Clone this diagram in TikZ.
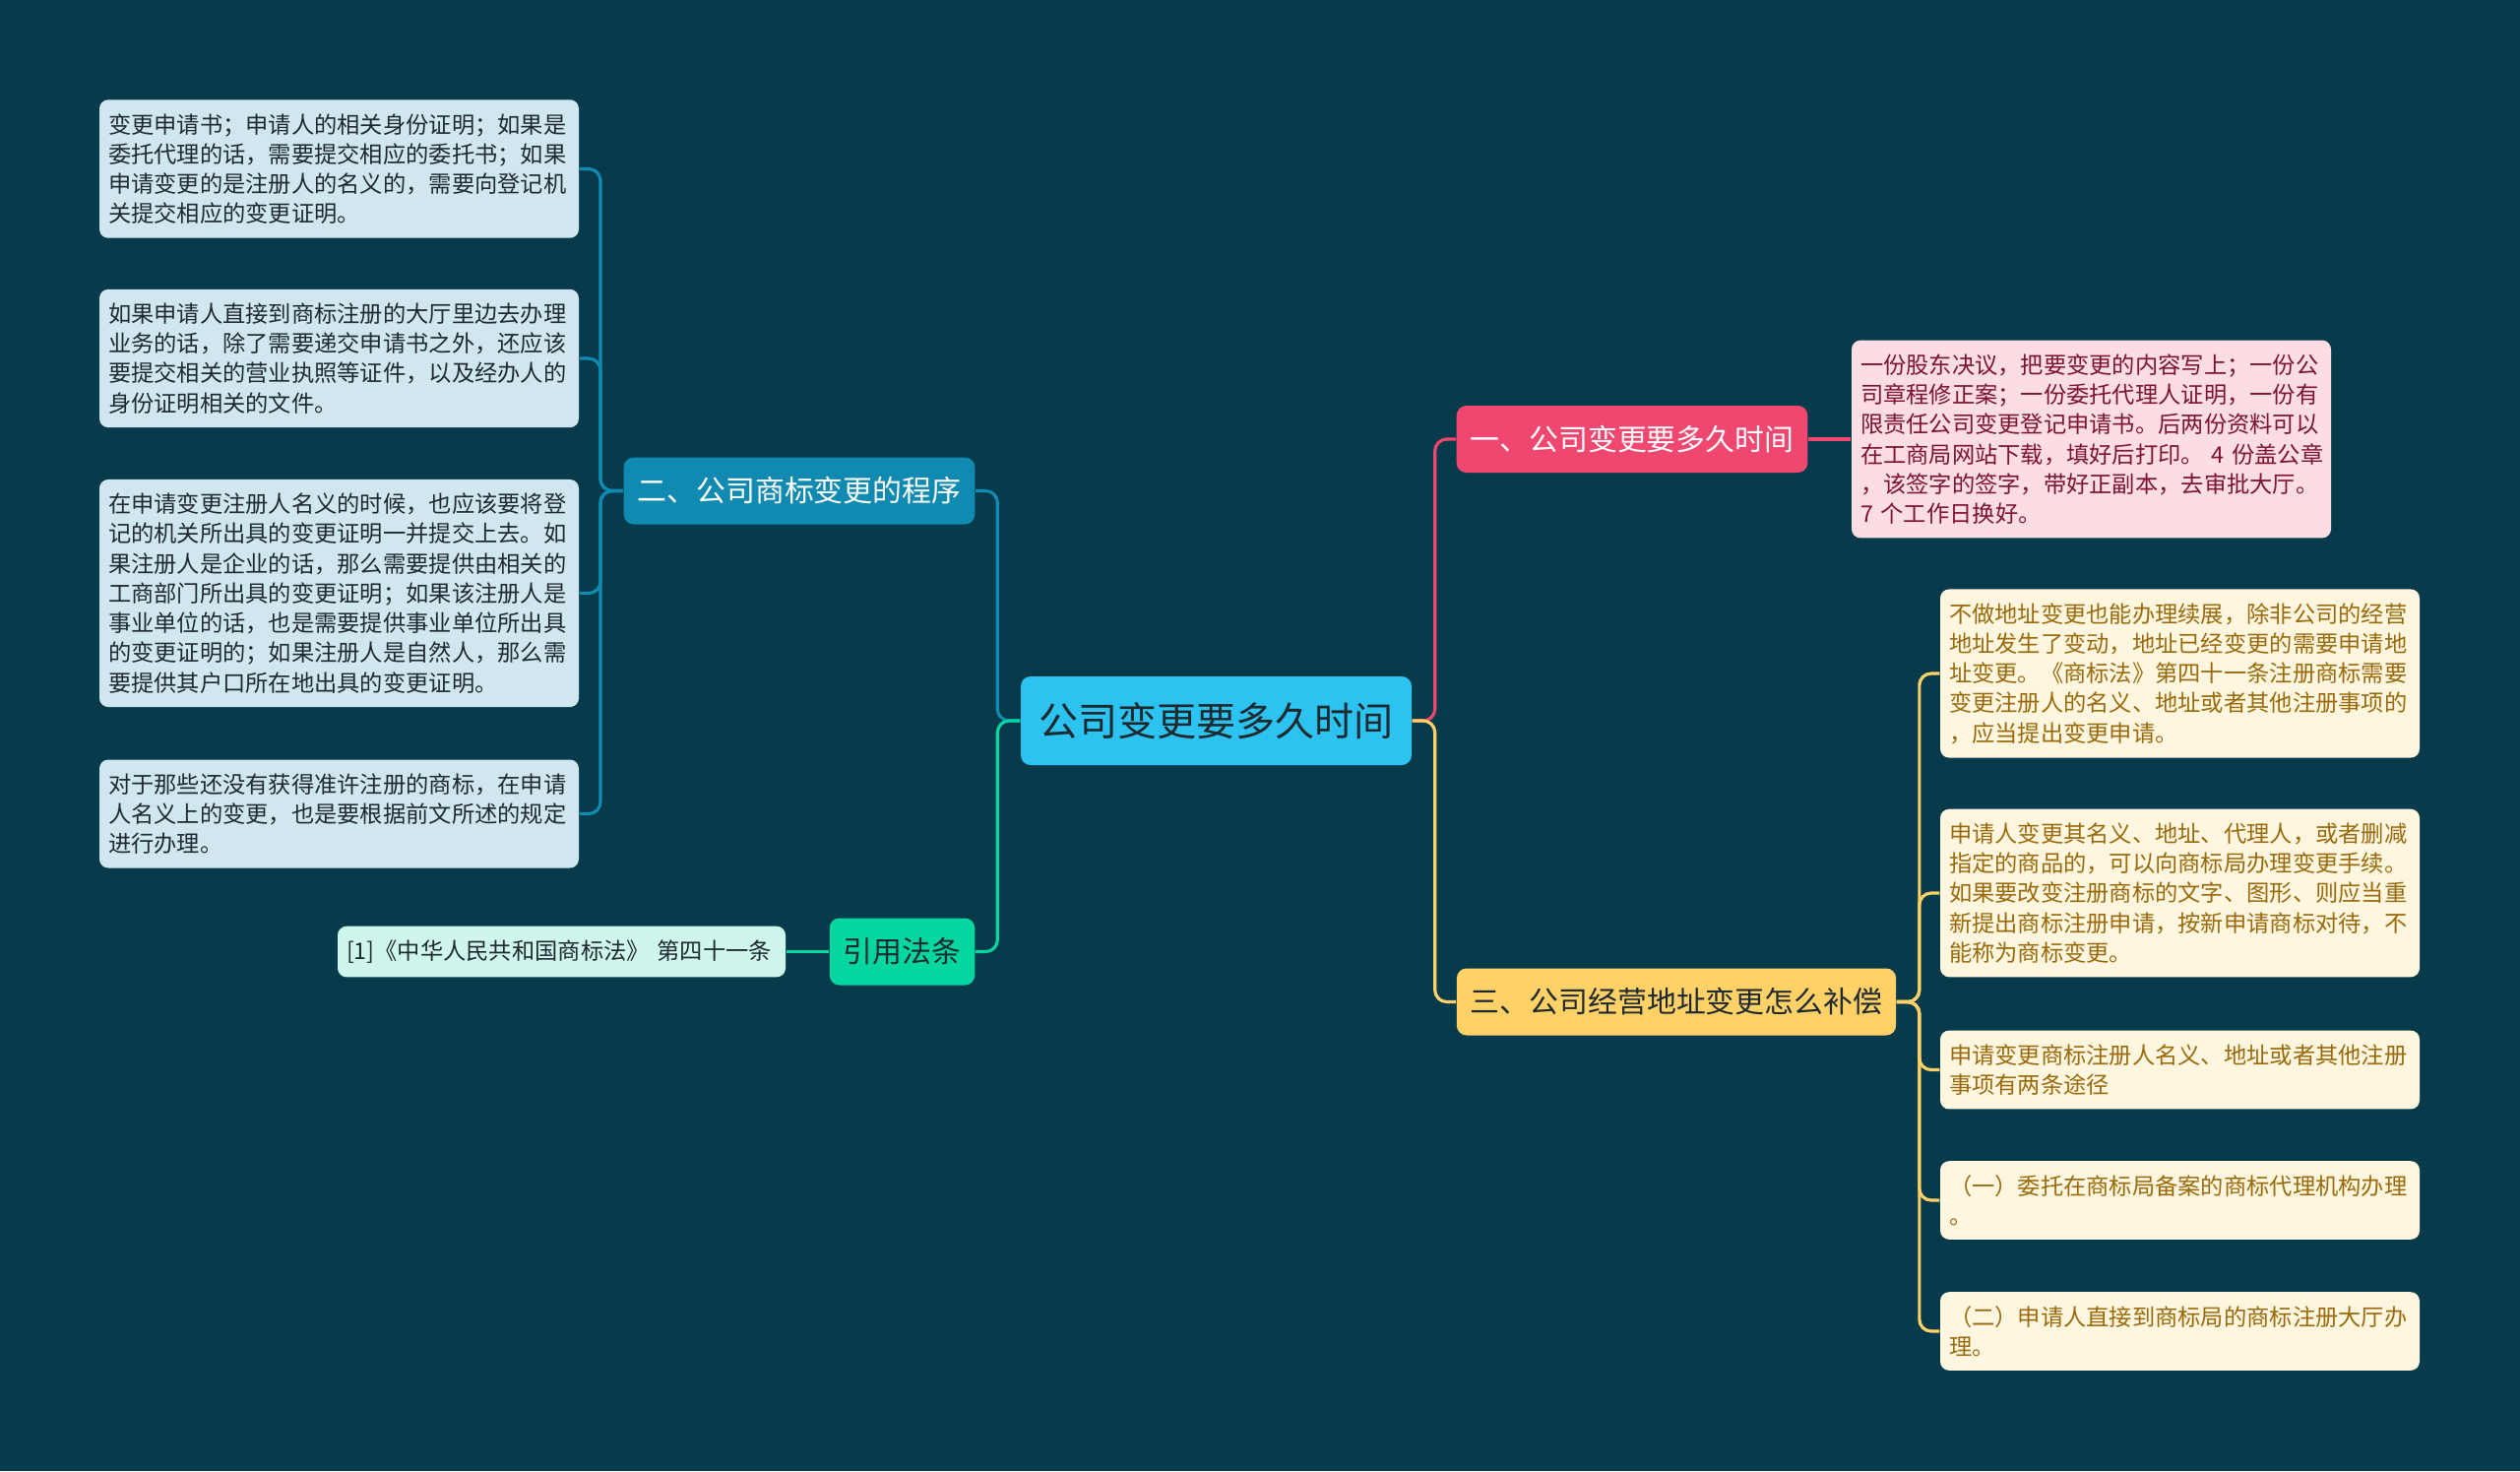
\documentclass[tikz,border=0pt]{standalone}
\usepackage{fontspec}
\newfontfamily\cjk{Noto Sans CJK SC}
\definecolor{bgcol}{HTML}{073B4C}
\definecolor{rootcol}{HTML}{2CC3F1}
\definecolor{pinkcol}{HTML}{EF476F}
\definecolor{goldcol}{HTML}{FFD166}
\definecolor{bluecol}{HTML}{118AB2}
\definecolor{greencol}{HTML}{06D6A0}
\definecolor{pinkleaf}{HTML}{FCDDE4}
\definecolor{goldleaf}{HTML}{FFF6E0}
\definecolor{blueleaf}{HTML}{D0E7F0}
\definecolor{greenleaf}{HTML}{CFF6EC}
\definecolor{pinktext}{HTML}{7D1430}
\definecolor{goldtext}{HTML}{996A0C}
\definecolor{darktext}{HTML}{1E2A30}
\begin{document}
\begin{tikzpicture}[
		root/.style={fill=rootcol, rounded corners=0.1cm, text=darktext, minimum width=3.97cm, minimum height=0.9cm,
			font={\cjk\fontsize{11.4}{13}\selectfont}},
		branch/.style={rounded corners=0.1cm, inner xsep=0.14cm, minimum height=0.68cm,
			font={\cjk\fontsize{8.5}{10}\selectfont}},
		leaf/.style={rounded corners=0.09cm, text width=4.69cm, align=left, inner xsep=0.09cm, inner ysep=0.14cm,
			font={\cjk\fontsize{6.62}{8.6}\selectfont}},
		link/.style={line width=0.9pt, rounded corners=0.12cm}
	]
	
	% Hintergrund und Bildgroesse
	\fill[bgcol] (0,0) rectangle (25.6,-14.94);
	\useasboundingbox (0,0) rectangle (25.6,-14.94);
	
	% Mittelpunkt
	\node[root] (center) at (12.355,-7.32) {公司变更要多久时间};
	
	% Hauptaeste
	\node[branch, fill=pinkcol, text=white] (b1) at (16.58,-4.46) {一、公司变更要多久时间};
	\node[branch, fill=goldcol, text=darktext] (b3) at (17.03,-10.175) {三、公司经营地址变更怎么补偿};
	\node[branch, fill=bluecol, text=white] (b2) at (8.12,-4.985) {二、公司商标变更的程序};
	\node[branch, fill=greencol, text=darktext] (cite) at (9.165,-9.665) {引用法条};
	
	% Blatt zu Ast 1
	\node[leaf, fill=pinkleaf, text=pinktext] (p1) at (21.245,-4.46) {一份股东决议，把要变更的内容写上；一份公\\
		司章程修正案；一份委托代理人证明，一份有\\
		限责任公司变更登记申请书。后两份资料可以\\
		在工商局网站下载，填好后打印。~4~份盖公章\\
		，该签字的签字，带好正副本，去审批大厅。\\
		7~个工作日换好。};
	
	% Blaetter zu Ast 3
	\node[leaf, fill=goldleaf, text=goldtext] (y1) at (22.145,-6.84) {不做地址变更也能办理续展，除非公司的经营\\
		地址发生了变动，地址已经变更的需要申请地\\
		址变更。《商标法》第四十一条注册商标需要\\
		变更注册人的名义、地址或者其他注册事项的\\
		，应当提出变更申请。};
	\node[leaf, fill=goldleaf, text=goldtext] (y2) at (22.145,-9.07) {申请人变更其名义、地址、代理人，或者删减\\
		指定的商品的，可以向商标局办理变更手续。\\
		如果要改变注册商标的文字、图形、则应当重\\
		新提出商标注册申请，按新申请商标对待，不\\
		能称为商标变更。};
	\node[leaf, fill=goldleaf, text=goldtext] (y3) at (22.145,-10.865) {申请变更商标注册人名义、地址或者其他注册\\
		事项有两条途径};
	\node[leaf, fill=goldleaf, text=goldtext] (y4) at (22.145,-12.19) {（一）委托在商标局备案的商标代理机构办理\\
		。};
	\node[leaf, fill=goldleaf, text=goldtext] (y5) at (22.145,-13.52) {（二）申请人直接到商标局的商标注册大厅办\\
		理。};
	
	% Blaetter zu Ast 2
	\node[leaf, fill=blueleaf, text=darktext] (l1) at (3.445,-1.715) {变更申请书；申请人的相关身份证明；如果是\\
		委托代理的话，需要提交相应的委托书；如果\\
		申请变更的是注册人的名义的，需要向登记机\\
		关提交相应的变更证明。};
	\node[leaf, fill=blueleaf, text=darktext] (l2) at (3.445,-3.64) {如果申请人直接到商标注册的大厅里边去办理\\
		业务的话，除了需要递交申请书之外，还应该\\
		要提交相关的营业执照等证件，以及经办人的\\
		身份证明相关的文件。};
	\node[leaf, fill=blueleaf, text=darktext] (l3) at (3.445,-6.025) {在申请变更注册人名义的时候，也应该要将登\\
		记的机关所出具的变更证明一并提交上去。如\\
		果注册人是企业的话，那么需要提供由相关的\\
		工商部门所出具的变更证明；如果该注册人是\\
		事业单位的话，也是需要提供事业单位所出具\\
		的变更证明的；如果注册人是自然人，那么需\\
		要提供其户口所在地出具的变更证明。};
	\node[leaf, fill=blueleaf, text=darktext] (l4) at (3.445,-8.265) {对于那些还没有获得准许注册的商标，在申请\\
		人名义上的变更，也是要根据前文所述的规定\\
		进行办理。};
	
	% Blatt zu Quellen
	\node[leaf, fill=greenleaf, text=darktext, text width=4.37cm] (g1) at (5.705,-9.665) {[1]《中华人民共和国商标法》~第四十一条};
	
	% Verbindungen vom Mittelpunkt
	\draw[link, pinkcol] (center.east) -- ++(0.23,0) |- (b1.west);
	\draw[link, goldcol] (center.east) -- ++(0.23,0) |- (b3.west);
	\draw[link, bluecol] (center.west) -- ++(-0.23,0) |- (b2.east);
	\draw[link, greencol] (center.west) -- ++(-0.23,0) |- (cite.east);
	
	% Verbindungen zu den Blaettern
	\draw[link, pinkcol] (b1.east) -- (p1.west);
	\foreach \i in {1,...,5} {
		\draw[link, goldcol] (b3.east) -- ++(0.23,0) |- (y\i.west);
	}
	\foreach \i in {1,...,4} {
		\draw[link, bluecol] (b2.west) -- ++(-0.23,0) |- (l\i.east);
	}
	\draw[link, greencol] (cite.west) -- (g1.east);
	
\end{tikzpicture}
\end{document}
